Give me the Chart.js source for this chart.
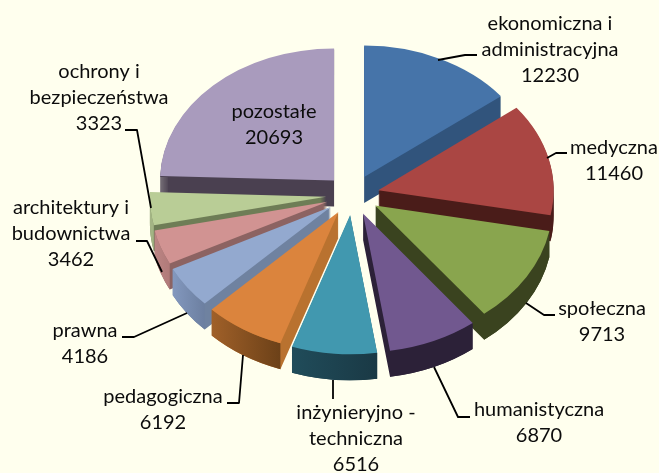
<!DOCTYPE html>
<html><head><meta charset="utf-8">
<style>html,body{margin:0;padding:0;background:#FFFFEE}canvas{display:block}</style>
<script src="https://cdn.jsdelivr.net/npm/chart.js@4"></script>
</head><body><canvas id="c" width="659" height="473"></canvas>
<script>
const categories = ['ekonomiczna i administracyjna','medyczna','społeczna','humanistyczna','inżynieryjno - techniczna','pedagogiczna','prawna','architektury i budownictwa','ochrony i bezpieczeństwa','pozostałe'];
const labelLines = [['ekonomiczna i','administracyjna'],['medyczna'],['społeczna'],['humanistyczna'],['inżynieryjno -','techniczna'],['pedagogiczna'],['prawna'],['architektury i','budownictwa'],['ochrony i','bezpieczeństwa'],['pozostałe']];
const values = [12230,11460,9713,6870,6516,6192,4186,3462,3323,20693];
const faceColors = ['#4674A9','#AA4643','#89A54E','#71588F','#4198AF','#DB843D','#93A9CF','#D19392','#B9CD96','#A99BBD'];
const wallColors = ['#31547C','#4A1C19','#3A431F','#2C2138','#1B3B47','#B9722F','#6F82A0','#8C6362','#6E7D56','#4A4050'];
const rimLeft   = ['#31547C','#4A1C19','#3A431F','#2C2138','#204C5A','#A06029','#8398BE','#BC8584','#A3B484','#4A4050'];
const rimRight  = ['#31547C','#4A1C19','#3A431F','#2C2138','#1A3945','#6C4118','#6C7FA0','#B07A79','#A3B484','#4A4050'];
const SQUASH = 0.756, EXPLODE = 26.5, DEPTH = 26, RADIUS = 176;
const labelX = [550,614,602,539,356,163,85,71,99,274];
const labelY = [24,148,309,410,413,397,331,208,72,112];
const LINE_H = 26;
const leaders = [
 [[438,60],[465,55],[477,55]],
 [[547,158],[556,153],[567,153]],
 [[526,303],[544,315],[555,315]],
 [[434,367],[458,417],[470,417]],
 [[333,380],[333,399]],
 [[243,355],[239,403],[227,403]],
 [[187,313],[134,337],[122,337]],
 [[162,272],[147,241],[136,241]],
 [[151,208],[137,130],[125,130]],
 []
];
const pie3d = {
  id:'pie3d',
  beforeDatasetDraw(chart){
    const ctx = chart.ctx, arcs = chart.getDatasetMeta(0).data;
    const order = arcs.map((a,i)=>i).sort((p,q)=>{
      const m = a=>(a.startAngle+a.endAngle)/2;
      return Math.sin(m(arcs[p]))-Math.sin(m(arcs[q]));
    });
    order.forEach(i=>{
      const a = arcs[i], {x,y,startAngle:s,endAngle:e,outerRadius:r} = a;
      const mid=(s+e)/2, ex=EXPLODE*Math.cos(mid), ey=EXPLODE*Math.sin(mid)*SQUASH;
      const cx=x+ex, cy=y+ey;
      // slight perspective: front slices read a little larger than back ones
      const kx=1+0.015*Math.sin(mid), ky=0.768+0.024*Math.sin(mid);
      const rx=r*kx, ry=r*ky;
      ctx.save();
      ctx.fillStyle = wallColors[i];
      ctx.beginPath();
      for(let d=1;d<=DEPTH;d++){
        ctx.moveTo(cx,cy+d);
        ctx.ellipse(cx,cy+d,rx,ry,0,s,e);
        ctx.closePath();
      }
      ctx.fill('nonzero');
      const a0=Math.max(s,0), a1=Math.min(e,Math.PI);
      if(a1>a0){
        const xa=cx+rx*Math.cos(a0), xb=cx+rx*Math.cos(a1);
        const g=ctx.createLinearGradient(xb,0,xa,0);
        g.addColorStop(0,rimLeft[i]); g.addColorStop(1,rimRight[i]);
        ctx.fillStyle=g;
        ctx.beginPath();
        ctx.ellipse(cx,cy,rx,ry,0,a0,a1);
        ctx.ellipse(cx,cy+DEPTH,rx,ry,0,a1,a0,true);
        ctx.closePath();
        ctx.fill();
      }
      ctx.translate(cx,cy); ctx.scale(kx,ky); ctx.translate(-x,-y);
      a.draw(ctx);
      ctx.restore();
    });
    return false;
  },
  afterDraw(chart){
    const ctx = chart.ctx;
    ctx.save();
    ctx.strokeStyle='#000'; ctx.lineWidth=1.8; ctx.lineJoin='round';
    leaders.forEach(p=>{
      if(!p.length) return;
      ctx.beginPath();
      p.forEach((q,j)=>j?ctx.lineTo(q[0],q[1]):ctx.moveTo(q[0],q[1]));
      ctx.stroke();
    });
    ctx.fillStyle='#0c0c0c'; ctx.textAlign='center'; ctx.textBaseline='middle';
    ctx.font='20px Lato';
    labelLines.forEach((ls,i)=>{
      const lines=[...ls,String(values[i])];
      lines.forEach((t,j)=>ctx.fillText(t,labelX[i],labelY[i]+j*LINE_H));
    });
    ctx.restore();
  }
};
new Chart(document.getElementById('c'),{
  type:'pie',
  data:{labels:categories,datasets:[{data:values,backgroundColor:faceColors,borderWidth:0,clip:false}]},
  options:{
    responsive:false,animation:false,radius:RADIUS,
    layout:{padding:{left:46,bottom:83}},
    plugins:{legend:{display:false},tooltip:{enabled:false},title:{display:false}}
  },
  plugins:[pie3d]
});
</script></body></html>
